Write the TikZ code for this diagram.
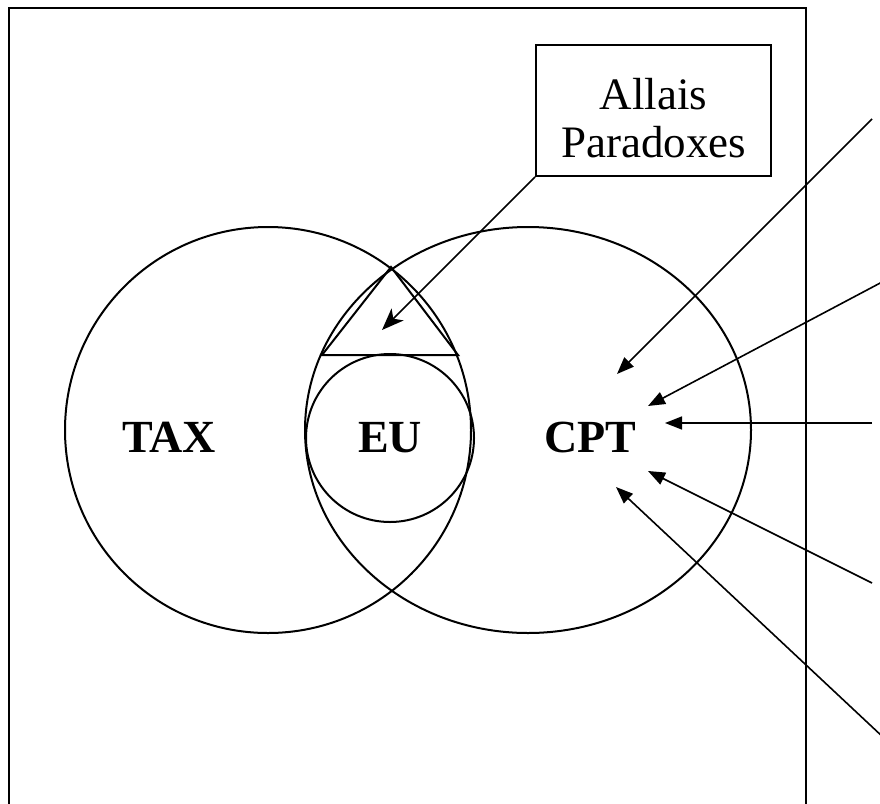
\documentclass[tikz,border=0pt]{standalone}
\usepackage{fontspec}
\setmainfont{Liberation Serif}
\usetikzlibrary{arrows.meta}
\usetikzlibrary{shapes}

\begin{document}
\begin{tikzpicture}[x=1pt,y=-1pt,
	ring/.style={line width=2pt},
	setname/.style={font=\fontsize{46}{48}\selectfont\bfseries, inner sep=0pt, anchor=base},
	paperbox/.style={draw, line width=2pt, minimum width=235pt, minimum height=131pt, inner sep=0pt},
	boxtext/.style={font=\fontsize{45}{48}\selectfont, align=center, inner sep=0pt},
	pointer/.style={line width=1.6pt, -{Triangle[length=17pt,width=13pt]}},
	paradox/.style={line width=1.6pt, -{Stealth[length=22pt,width=17pt,inset=6pt]}}]
	\useasboundingbox (0,0) rectangle (880,803);

	% frame, open at the bottom
	\draw[line width=2.4pt]
		(9,812)--(9,8)--(806,8)--(806,812);

	% the three theories
	\draw[ring] (268,430) circle (203pt);
	\draw[ring] (528,430) ellipse (223pt and 203pt);
	\draw[ring] (390,438) circle (84pt);
	\draw[ring] (391,267)--(458,355)--(322,355)--cycle;

	\node[setname] (tax) at (169,452) {TAX};
	\node[setname] (eu) at (390,452) {EU};
	\node[setname] (cpt) at (590,452) {CPT};

	% paradox box
	\node[paperbox] (allais) at (653.5,110.5) {};
	\node[boxtext] (allaistext) at ([yshift=-8pt]allais.center) {Allais\\Paradoxes};
	\coordinate (allaistip) at (382,330);
	\draw[paradox] (allais.south west) -- (allaistip);

	% arrows coming in from the right
	\coordinate (src1) at (872,119);
	\coordinate (src2) at (884,281);
	\coordinate (src3) at (872,423);
	\coordinate (src4) at (872,583);
	\coordinate (src5) at (884,738);
	\coordinate (dst1) at (617,374);
	\coordinate (dst2) at (648,406);
	\coordinate (dst3) at (665,423);
	\coordinate (dst4) at (648,471);
	\coordinate (dst5) at (616,487);
	\draw[pointer] (src1) -- (dst1);
	\draw[pointer] (src2) -- (dst2);
	\draw[pointer] (src3) -- (dst3);
	\draw[pointer] (src4) -- (dst4);
	\draw[pointer] (src5) -- (dst5);

\end{tikzpicture}
\end{document}
